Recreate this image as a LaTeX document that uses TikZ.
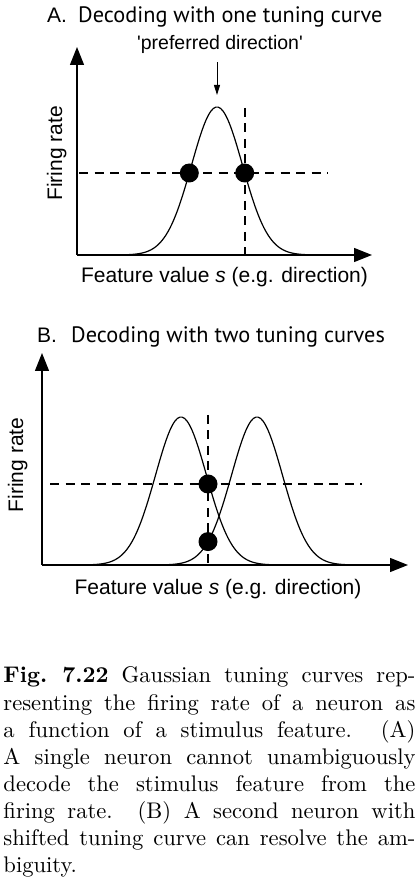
\documentclass[tikz,border=0pt]{standalone}
\usepackage{fontspec}
\newfontfamily\helv{Liberation Sans}[Ligatures=TeXOff]
\newfontfamily\myriad{PT Sans}
\usetikzlibrary{arrows.meta}

\begin{document}
\begin{tikzpicture}[x=1pt,y=1pt]
			\tikzstyle{lbl}=[inner sep=0pt,font=\helv\fontsize{21}{24}\selectfont]
			\tikzstyle{ttl}=[inner sep=0pt,font=\myriad\fontsize{22.3}{26}\selectfont]
			\tikzstyle{dot}=[circle,fill=black,inner sep=0pt,minimum size=19pt]
			\tikzstyle{axis}=[line width=1.3pt,-{Triangle[length=18pt,width=14pt]}]
			\tikzstyle{tuning}=[line width=1.2pt,smooth]
			\tikzstyle{level}=[line width=2pt,dash pattern=on 9pt off 6.5pt]
			\useasboundingbox (0,0) rectangle (420,881);

			% A: one tuning curve
			\begin{scope}
			\node[lbl,anchor=base west] (A-tag) at (47,858) {A.};
			\node[ttl,anchor=base west] (A-title) at (78,858) {Decoding with one tuning curve};
			\node[lbl,font=\helv\fontsize{19.5}{22}\selectfont,anchor=base] (A-pref) at (220,831) {'preferred direction'};
			\node[lbl,rotate=90,anchor=base] (A-rate) at (62,727.5) {Firing rate};
			\node[lbl,anchor=base] (A-feat) at (224.5,598) {Feature value \textit{s} (e.g. direction)};
			\coordinate (A-o) at (77,626);
			\coordinate (A-y) at (77,834);
			\coordinate (A-x) at (372,626);
			\coordinate (A-peak) at (217,786);
			\coordinate (A-h1) at (79,708);
			\coordinate (A-h2) at (328,708);
			\coordinate (A-v1) at (245,773);
			\coordinate (A-v2) at (245,626);
			\draw[tuning] plot[domain=-107:107,samples=90] ({217+\x},{626+148*exp(-\x*\x/1300.5)});
			\node[dot] (A-d1) at (189.3,708) {};
			\node[dot] (A-d2) at (244.7,708) {};
			\end{scope}

			\path[-]
			(A-o) edge[axis] (A-y)
			(A-o) edge[axis] (A-x)
			(A-h1) edge[level] (A-h2)
			(A-v1) edge[level] (A-v2)
			(A-pref.south -| A-peak) edge[line width=1pt,shorten <=8pt,-{Triangle[length=10pt,width=6pt]}] (A-peak)
			;

			% B: two tuning curves
			\begin{scope}
			\node[lbl,anchor=base west] (B-tag) at (37,538) {B.};
			\node[ttl,anchor=base west] (B-title) at (71,538) {Decoding with two tuning curves};
			\node[lbl,rotate=90,anchor=base] (B-rate) at (23,416) {Firing rate};
			\node[lbl,anchor=base] (B-feat) at (218,286) {Feature value \textit{s} (e.g. direction)};
			\coordinate (B-o) at (42,316);
			\coordinate (B-y) at (42,528);
			\coordinate (B-x) at (408,316);
			\coordinate (B-h1) at (50,397);
			\coordinate (B-h2) at (362,397);
			\coordinate (B-v1) at (208,466);
			\coordinate (B-v2) at (208,316);
			\draw[tuning] plot[domain=-107:107,samples=90] ({181+\x},{316+148*exp(-\x*\x/1300.5)});
			\draw[tuning] plot[domain=-107:107,samples=90] ({257+\x},{316+148*exp(-\x*\x/1300.5)});
			\node[dot] (B-d1) at (208,397) {};
			\node[dot] (B-d2) at (208,339.4) {};
			\end{scope}

			\path[-]
			(B-o) edge[axis] (B-y)
			(B-o) edge[axis] (B-x)
			(B-h1) edge[level] (B-h2)
			(B-v1) edge[level] (B-v2)
			;

			% caption
			\node[anchor=base west,inner sep=0pt,scale=2.26,transform shape,text width=182.3pt,align=justify,
				font=\fontsize{10}{12}\selectfont] (caption) at (3,198)
				{\textbf{Fig.\ 7.22} Gaussian tuning curves rep-\linebreak
				resenting the firing rate of a neuron as\linebreak
				a function of a stimulus feature. (A)\linebreak
				A single neuron cannot unambiguously\linebreak
				decode the stimulus feature from the\linebreak
				firing rate. (B) A second neuron with\linebreak
				shifted tuning curve can resolve the am-\linebreak
				biguity.};
		\end{tikzpicture}
\end{document}
